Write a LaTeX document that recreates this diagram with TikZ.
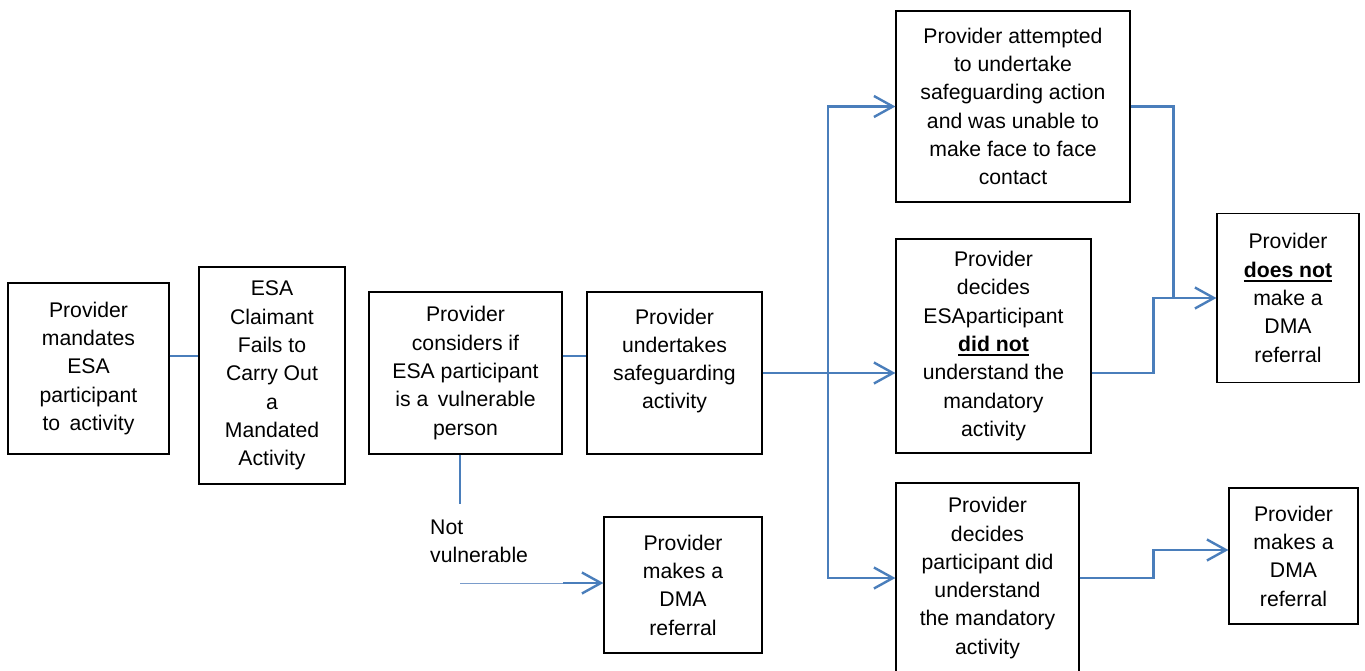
\documentclass[tikz,border=0pt]{standalone}
\usepackage{fontspec}
\setmainfont{Liberation Sans}
\usetikzlibrary{arrows.meta}
\definecolor{linkblue}{HTML}{4A7EBB}
\definecolor{thinblue}{HTML}{7A9CCB}
\newcommand{\ulbold}[1]{\setbox0\hbox{\textbf{#1}}\leavevmode\rlap{\rule[-4.5pt]{\wd0}{2pt}}\box0}

\begin{document}
\begin{tikzpicture}[x=1pt,y=-1pt]
\tikzset{stage/.style={draw,line width=1.2pt,align=center,inner sep=0pt,font=\fontsize{21.2}{28.3}\selectfont},
link/.style={draw=linkblue,line width=2.6pt},
linkarrow/.style={link,-{Straight Barb[length=19pt,width=21pt,line width=2.4pt]}},
thinlink/.style={draw=thinblue,line width=0.9pt}}
\clip (0,0) rectangle (1365,671);

\node[stage,minimum width=161pt,minimum height=171pt] (mandate) at (88.5,368.5) {Provider\\mandates\\ESA\\participant\\to\, activity};
\node[stage,minimum width=146pt,minimum height=217pt] (fails) at (272,375.5) {ESA\\Claimant\\Fails to\\Carry Out\\a\\Mandated\\Activity};
\node[stage,minimum width=193pt,minimum height=162pt] (considers) at (465.5,373) {Provider\\considers if\\ESA participant\\is a\, vulnerable\\person};
\node[stage,minimum width=175pt,minimum height=162pt] (safeguard) at (674.5,373) {Provider\\undertakes\\safeguarding\\activity\\[0pt]\mbox{}};
\node[stage,minimum width=158pt,minimum height=136pt] (dmaleft) at (683,585) {Provider\\makes a\\DMA\\referral};
\node[stage,minimum width=234pt,minimum height=191pt] (attempted) at (1013,106.5) {Provider attempted\\to undertake\\safeguarding action\\and was unable to\\make face to face\\contact};
\node[stage,minimum width=195pt,minimum height=214pt] (didnot) at (993.5,346) {Provider\\decides\\ESAparticipant\\\ulbold{did not}\\understand the\\mandatory\\activity};
\node[stage,minimum width=183pt,minimum height=190pt] (did) at (987.5,578) {Provider\\decides\\participant did\\understand\\the mandatory\\activity};
\node[stage,minimum width=142pt,minimum height=169pt] (nodma) at (1288,298) {Provider\\\ulbold{does not}\\make a\\DMA\\referral};
\node[stage,minimum width=129pt,minimum height=136pt] (dmaright) at (1293.5,556) {Provider\\makes a\\DMA\\referral};
\node[font=\fontsize{21.2}{28.3}\selectfont,align=left,inner sep=0pt,anchor=west] (notvuln) at (430,541) {Not\\vulnerable};

\draw[link] ([yshift=12.5pt]mandate.east) coordinate (a) -- (a -| fails.west);
\draw[link] ([yshift=17pt]considers.east) coordinate (b) -- (b -| safeguard.west);
\coordinate (fork) at (828,373);
\draw[link] (safeguard.east) -- (fork);
\draw[linkarrow] (fork) |- (attempted.west);
\draw[linkarrow] (fork) -- (didnot.west |- fork);
\draw[linkarrow] (fork) |- (did.west);

\draw[link] ([xshift=-5.5pt]considers.south) -- ++(0,49);
\coordinate (nv) at (460,583);
\draw[thinlink] (nv) -- ++(103,0) coordinate (nvend);
\draw[linkarrow] (nvend) -- (nvend -| dmaleft.west);

\draw[link] (attempted.east) -- ++(43,0) coordinate (j) -- (j |- nodma.west);
\draw[linkarrow] (didnot.east |- fork) -- ++(62,0) |- (nodma.west);
\draw[linkarrow] (did.east) -- ++(74,0) |- ([yshift=6pt]dmaright.west);
\end{tikzpicture}
\end{document}
